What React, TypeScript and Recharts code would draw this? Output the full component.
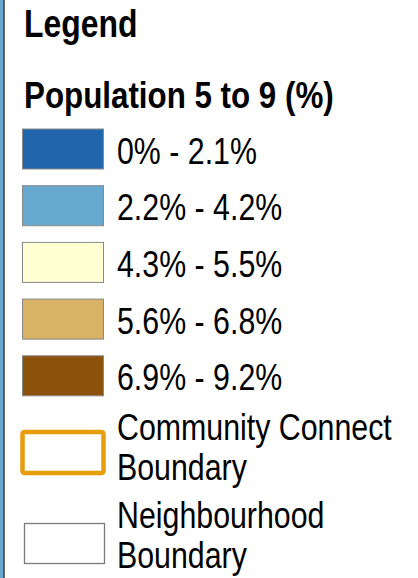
import { BarChart, Bar, Legend } from 'recharts';

const TITLE = 'Legend';
const SUBTITLE = 'Population 5 to 9 (%)';
const CLASS_LABELS = ['0% - 2.1%', '2.2% - 4.2%', '4.3% - 5.5%', '5.6% - 6.8%', '6.9% - 9.2%'];
const CLASS_COLORS = ['#2166ac', '#67a9cf', '#ffffd4', '#d8b365', '#8c510a'];
const BOUNDARY_LABELS = [
  ['Community Connect', 'Boundary'],
  ['Neighbourhood', 'Boundary'],
];
const BOUNDARY_STROKES = ['#e89d0a', '#7a7a7a'];

const FONT = '"Liberation Sans", Arial, sans-serif';
const NARROW = 0.82;

const data = [{ name: 'x', c0: 0, c1: 0, c2: 0, c3: 0, c4: 0 }];

function Txt({ x, y, size, bold, sx, children }: any) {
  return (
    <g transform={`translate(${x},${y}) scale(${sx},1)`}>
      <text x={0} y={0} fontFamily={FONT} fontSize={size} fontWeight={bold ? 700 : 400} fill="#000">
        {children}
      </text>
    </g>
  );
}

function LegendPanel() {
  return (
    <svg width={418} height={578} style={{ display: 'block' }}>
      <rect x={0} y={0} width={418} height={578} fill="#fff" />
      {/* map edge on the left */}
      <rect x={0} y={0} width={3.5} height={578} fill="#69a7cf" />
      <line x1={4} y1={0} x2={4} y2={578} stroke="#333" strokeWidth={1.5} />

      <Txt x={24} y={37} size={38} bold sx={0.84}>{TITLE}</Txt>
      <Txt x={24} y={108} size={36} bold sx={0.87}>{SUBTITLE}</Txt>

      {CLASS_LABELS.map((label, i) => {
        const top = 129 + i * 56.7;
        return (
          <g key={label}>
            <rect x={22.5} y={top} width={81} height={40} fill={CLASS_COLORS[i]} stroke="#888" strokeWidth={1} />
            <Txt x={117} y={top + 34.5} size={37} sx={NARROW}>{label}</Txt>
          </g>
        );
      })}

      <rect x={22.5} y={432} width={81} height={41} rx={2} fill="#fff" stroke={BOUNDARY_STROKES[0]} strokeWidth={4.5} />
      <Txt x={117} y={440} size={37} sx={NARROW}>{BOUNDARY_LABELS[0][0]}</Txt>
      <Txt x={117} y={480} size={37} sx={NARROW}>{BOUNDARY_LABELS[0][1]}</Txt>

      <rect x={24.5} y={523.5} width={80} height={40} fill="#fff" stroke={BOUNDARY_STROKES[1]} strokeWidth={1.3} />
      <Txt x={117} y={528} size={37} sx={NARROW}>{BOUNDARY_LABELS[1][0]}</Txt>
      <Txt x={117} y={568} size={37} sx={NARROW}>{BOUNDARY_LABELS[1][1]}</Txt>
    </svg>
  );
}

export default function App() {
  return (
    <div style={{ position: 'absolute', left: 0, top: 0, width: 418, height: 578, background: '#fff' }}>
      <BarChart width={418} height={578} data={data} margin={{ top: 0, right: 0, bottom: 0, left: 0 }}>
        {CLASS_LABELS.map((label, i) => (
          <Bar key={label} dataKey={`c${i}`} name={label} fill={CLASS_COLORS[i]} isAnimationActive={false} />
        ))}
        <Legend
          layout="vertical"
          verticalAlign="top"
          align="left"
          wrapperStyle={{ left: 0, top: 0, width: 418, height: 578 }}
          content={() => <LegendPanel />}
        />
      </BarChart>
    </div>
  );
}
